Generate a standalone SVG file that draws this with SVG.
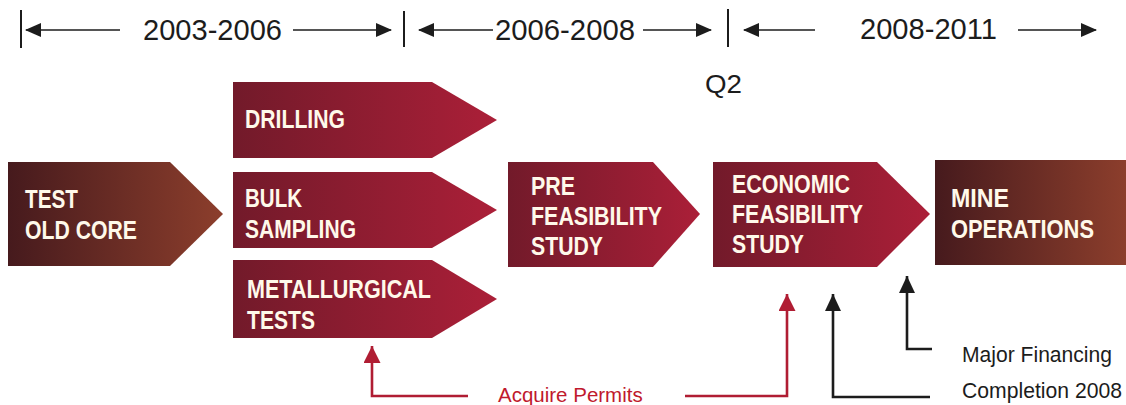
<svg xmlns="http://www.w3.org/2000/svg" width="1126" height="405" viewBox="0 0 1126 405">
  <defs>
    <linearGradient id="gCrimson" x1="0" y1="0" x2="1" y2="0">
      <stop offset="0" stop-color="#721a2a"/>
      <stop offset="1" stop-color="#ab1f38"/>
    </linearGradient>
    <linearGradient id="gBrown" x1="0" y1="0" x2="1" y2="0">
      <stop offset="0" stop-color="#461a1d"/>
      <stop offset="1" stop-color="#8c3e2c"/>
    </linearGradient>
    <marker id="mTime" viewBox="0 0 16 14" refX="15" refY="7" markerWidth="16" markerHeight="14" markerUnits="userSpaceOnUse" orient="auto-start-reverse">
      <path d="M0,0 L16,7 L0,14 Z" fill="#1c1c1c"/>
    </marker>
    <marker id="mRed" viewBox="0 0 18 17" refX="17" refY="8.5" markerWidth="18" markerHeight="17" markerUnits="userSpaceOnUse" orient="auto">
      <path d="M0,0 L17,8.5 L0,17 Z" fill="#b01d33"/>
    </marker>
    <marker id="mBlack" viewBox="0 0 18 16" refX="17" refY="8" markerWidth="18" markerHeight="16" markerUnits="userSpaceOnUse" orient="auto">
      <path d="M0,0 L17,8 L0,16 Z" fill="#1c1c1c"/>
    </marker>
  </defs>
  <style>
    .period { font-family: "Liberation Sans", Arial, sans-serif; font-size: 29px; fill: #1c1c1c; }
    .tick { stroke: #1c1c1c; stroke-width: 2; }
    .span { stroke: #1c1c1c; stroke-width: 1.6; fill: none; }
    .crimson { fill: url(#gCrimson); }
    .brown { fill: url(#gBrown); }
    .label { font-family: "Liberation Sans", Arial, sans-serif; font-weight: bold; font-size: 25px; fill: #fff9ea; }
    .red { stroke: #b01d33; stroke-width: 2.6; fill: none; }
    .black { stroke: #1c1c1c; stroke-width: 2.6; fill: none; }
    .note { font-family: "Liberation Sans", Arial, sans-serif; font-size: 21.5px; fill: #1c1c1c; }
    .permit { font-family: "Liberation Sans", Arial, sans-serif; font-size: 20.5px; fill: #c0192d; }
  </style>
  <rect width="1126" height="405" fill="#ffffff"/>

  <!-- timeline header -->
  <g id="timeline">
    <line class="tick" x1="21" y1="10" x2="21" y2="48"/>
    <line class="tick" x1="404" y1="11" x2="404" y2="47"/>
    <line class="tick" x1="728" y1="9" x2="728" y2="47"/>
    <line class="span" x1="120" y1="30" x2="26" y2="30" marker-end="url(#mTime)"/>
    <line class="span" x1="293" y1="30" x2="391" y2="30" marker-end="url(#mTime)"/>
    <line class="span" x1="493" y1="30" x2="419" y2="30" marker-end="url(#mTime)"/>
    <line class="span" x1="643" y1="30" x2="711" y2="30" marker-end="url(#mTime)"/>
    <line class="span" x1="815" y1="30" x2="744" y2="30" marker-end="url(#mTime)"/>
    <line class="span" x1="1018" y1="30" x2="1096" y2="30" marker-end="url(#mTime)"/>
    <text class="period" x="143" y="40" textLength="139" lengthAdjust="spacingAndGlyphs">2003-2006</text>
    <text class="period" x="495" y="40" textLength="140" lengthAdjust="spacingAndGlyphs">2006-2008</text>
    <text class="period" x="860" y="39" textLength="137" lengthAdjust="spacingAndGlyphs">2008-2011</text>
    <text class="period" x="705" y="93" style="font-size:26px" textLength="37" lengthAdjust="spacingAndGlyphs">Q2</text>
  </g>

  <!-- process stages -->
  <g id="test-old-core">
    <polygon class="brown" points="8,162 170,162 223,214 170,266 8,266"/>
    <text class="label" x="25" y="208" textLength="53" lengthAdjust="spacingAndGlyphs">TEST</text>
    <text class="label" x="25" y="239" textLength="112" lengthAdjust="spacingAndGlyphs">OLD CORE</text>
  </g>
  <g id="drilling">
    <polygon class="crimson" points="233,82 432,82 497,120 432,158 233,158"/>
    <text class="label" x="245" y="128" textLength="100" lengthAdjust="spacingAndGlyphs">DRILLING</text>
  </g>
  <g id="bulk-sampling">
    <polygon class="crimson" points="233,172 432,172 497,210 432,248 233,248"/>
    <text class="label" x="245" y="207" textLength="57" lengthAdjust="spacingAndGlyphs">BULK</text>
    <text class="label" x="245" y="238" textLength="111" lengthAdjust="spacingAndGlyphs">SAMPLING</text>
  </g>
  <g id="metallurgical-tests">
    <polygon class="crimson" points="233,260 432,260 497,299 432,338 233,338"/>
    <text class="label" x="247" y="298" textLength="184" lengthAdjust="spacingAndGlyphs">METALLURGICAL</text>
    <text class="label" x="247" y="329" textLength="68" lengthAdjust="spacingAndGlyphs">TESTS</text>
  </g>
  <g id="pre-feasibility">
    <polygon class="crimson" points="508,162 653,162 700,214 653,267 508,267"/>
    <text class="label" x="531" y="195" textLength="44" lengthAdjust="spacingAndGlyphs">PRE</text>
    <text class="label" x="531" y="225" textLength="131" lengthAdjust="spacingAndGlyphs">FEASIBILITY</text>
    <text class="label" x="531" y="255" textLength="72" lengthAdjust="spacingAndGlyphs">STUDY</text>
  </g>
  <g id="economic-feasibility">
    <polygon class="crimson" points="713,162 877,162 930,214 877,267 713,267"/>
    <text class="label" x="732" y="193" textLength="118" lengthAdjust="spacingAndGlyphs">ECONOMIC</text>
    <text class="label" x="732" y="223" textLength="131" lengthAdjust="spacingAndGlyphs">FEASIBILITY</text>
    <text class="label" x="732" y="253" textLength="72" lengthAdjust="spacingAndGlyphs">STUDY</text>
  </g>
  <g id="mine-operations">
    <rect class="brown" x="935" y="160" width="191" height="105"/>
    <text class="label" x="951" y="207" textLength="58" lengthAdjust="spacingAndGlyphs">MINE</text>
    <text class="label" x="951" y="238" textLength="143" lengthAdjust="spacingAndGlyphs">OPERATIONS</text>
  </g>

  <!-- milestone callouts -->
  <g id="connectors">
    <polyline class="red" points="468,396 372,396 372,346" marker-end="url(#mRed)"/>
    <polyline class="red" points="685,396 787,396 787,294" marker-end="url(#mRed)"/>
    <polyline class="black" points="932,349 907,349 907,276" marker-end="url(#mBlack)"/>
    <polyline class="black" points="930,397 833,397 833,294" marker-end="url(#mBlack)"/>
  </g>
  <g id="labels">
    <text class="permit" x="498" y="402">Acquire Permits</text>
    <text class="note" x="962" y="362" textLength="150" lengthAdjust="spacingAndGlyphs">Major Financing</text>
    <text class="note" x="962" y="398" textLength="160" lengthAdjust="spacingAndGlyphs">Completion 2008</text>
  </g>
</svg>
